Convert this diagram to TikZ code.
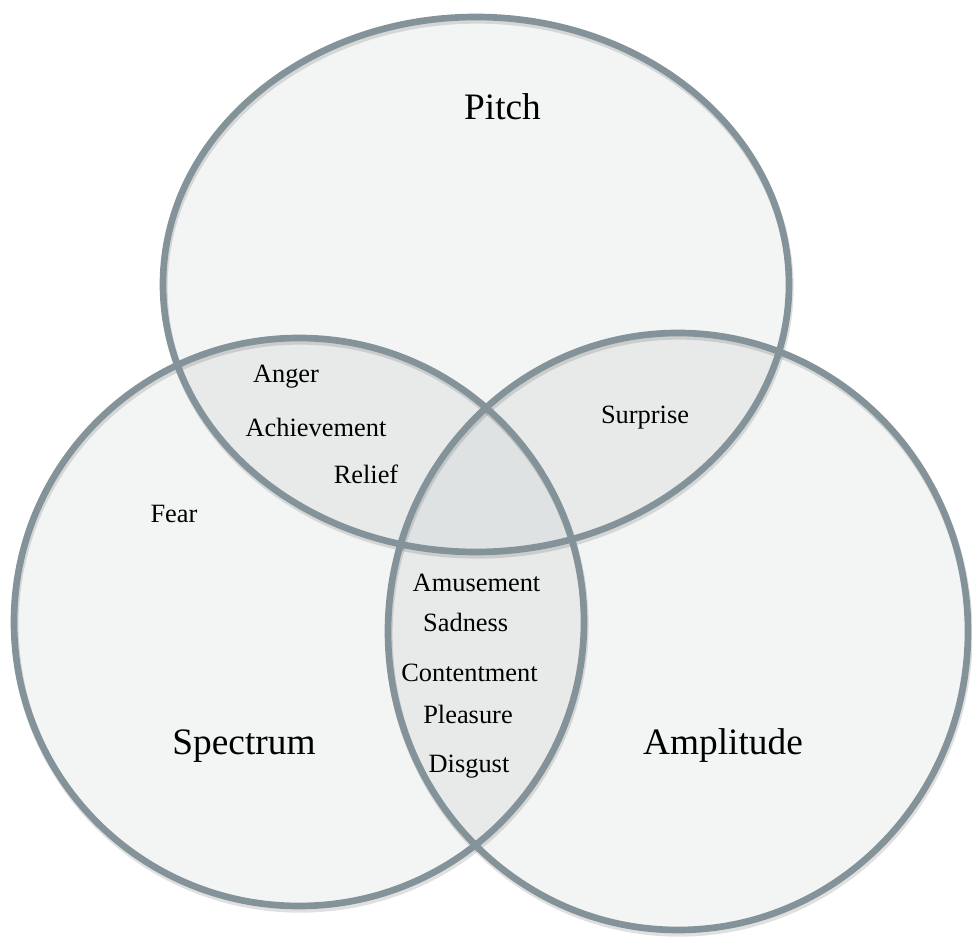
\documentclass[tikz,border=0pt]{standalone}
\usepackage{fontspec}
\setmainfont{Liberation Serif}
\definecolor{basefill}{HTML}{F3F5F5}
\definecolor{twofill}{HTML}{E8EAEA}
\definecolor{threefill}{HTML}{DEE2E3}
\definecolor{rim}{HTML}{84939A}
\tikzset{
  x=0.75pt, y=-0.75pt,
  rimline/.style={draw=rim, line width=5pt},
  shadowline/.style={draw=black, draw opacity=0.12, line width=5.5pt},
  title/.style={anchor=base, font=\fontsize{28pt}{30pt}\selectfont, inner sep=0pt},
  emotion/.style={anchor=base, font=\fontsize{19.8pt}{22pt}\selectfont, inner sep=0pt}
}
\def\pitchpath{(476,284.5) ellipse [x radius=313, y radius=267.5]}
\def\specpath{(299,622) ellipse [x radius=285, y radius=284]}
\def\amppath{(678,631.5) ellipse [x radius=290, y radius=298.5]}
\begin{document}
\begin{tikzpicture}
\useasboundingbox (0,0) rectangle (972,937);
% base fills
\fill[basefill] \pitchpath;
\fill[basefill] \specpath;
\fill[basefill] \amppath;
% pairwise overlaps
\begin{scope}
  \clip \pitchpath;
  \fill[twofill] \specpath;
  \fill[twofill] \amppath;
\end{scope}
\begin{scope}
  \clip \specpath;
  \fill[twofill] \amppath;
\end{scope}
% triple overlap
\begin{scope}
  \clip \pitchpath;
  \clip \specpath;
  \fill[threefill] \amppath;
\end{scope}
% soft shadows
\begin{scope}[shift={(1,3)}]
  \path[shadowline] \pitchpath;
  \path[shadowline] \specpath;
  \path[shadowline] \amppath;
\end{scope}
% outlines
\path[rimline] \pitchpath;
\path[rimline] \specpath;
\path[rimline] \amppath;
% titles
\node[title] (pitch) at (502.5,119.3) {Pitch};
\node[title] (spectrum) at (244,754.3) {Spectrum};
\node[title] (amplitude) at (723,754.3) {Amplitude};
% emotions
\node[emotion] (anger) at (286,382.7) {Anger};
\node[emotion] (achievement) at (316,436.7) {Achievement};
\node[emotion] (relief) at (366,484) {Relief};
\node[emotion] (fear) at (174,522.7) {Fear};
\node[emotion] (surprise) at (645,424) {Surprise};
\node[emotion] (amusement) at (476.5,591.7) {Amusement};
\node[emotion] (sadness) at (465.7,631.7) {Sadness};
\node[emotion] (contentment) at (469.5,681.7) {Contentment};
\node[emotion] (pleasure) at (468,723.3) {Pleasure};
\node[emotion] (disgust) at (469,773) {Disgust};
\end{tikzpicture}
\end{document}
